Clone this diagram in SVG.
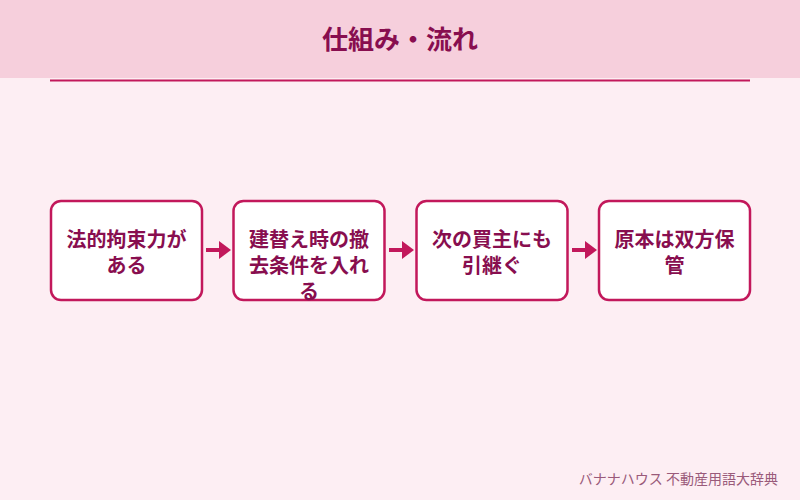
<svg xmlns="http://www.w3.org/2000/svg" width="800" height="500" viewBox="0 0 800 500">
<style>
.box{fill:#ffffff;stroke:#c2185b;stroke-width:2.5}
.t{font-family:"Noto Sans CJK JP","Noto Sans",sans-serif;font-weight:bold;font-size:20px;fill:#880e4f;text-anchor:middle}
.conn{stroke:#c2185b;stroke-width:4;fill:none}
.head{fill:#c2185b}
</style>
<rect x="0" y="0" width="800" height="500" fill="#fdeef3"/>
<rect x="0" y="0" width="800" height="78" fill="#f6cfdc"/>
<line x1="50" y1="80.5" x2="750" y2="80.5" stroke="#c2185b" stroke-width="2"/>
<text x="400" y="49" font-family="'Noto Sans CJK JP','Noto Sans',sans-serif" font-weight="bold" font-size="26" fill="#880e4f" text-anchor="middle">仕組み・流れ</text>
<g id="connectors">
<line class="conn" x1="206" y1="250" x2="221" y2="250"/>
<polygon class="head" points="219,241 231,250 219,259"/>
<line class="conn" x1="389" y1="250" x2="404" y2="250"/>
<polygon class="head" points="402,241 414,250 402,259"/>
<line class="conn" x1="572" y1="250" x2="587" y2="250"/>
<polygon class="head" points="585,241 597,250 585,259"/>
</g>
<g id="node1">
<rect class="box" x="51" y="201" width="151" height="99" rx="10"/>
<text class="t" x="126.5" y="247">法的拘束力が</text>
<text class="t" x="126.5" y="273">ある</text>
</g>
<g id="node2">
<rect class="box" x="233.5" y="201" width="151" height="99" rx="10"/>
<text class="t" x="309" y="247">建替え時の撤</text>
<text class="t" x="309" y="273">去条件を入れ</text>
<text class="t" x="309" y="299">る</text>
</g>
<g id="node3">
<rect class="box" x="416.5" y="201" width="151" height="99" rx="10"/>
<text class="t" x="492" y="247">次の買主にも</text>
<text class="t" x="492" y="273">引継ぐ</text>
</g>
<g id="node4">
<rect class="box" x="599" y="201" width="151" height="99" rx="10"/>
<text class="t" x="674.5" y="247">原本は双方保</text>
<text class="t" x="674.5" y="273">管</text>
</g>
<text x="778" y="484" font-family="'Noto Sans CJK JP','Noto Sans',sans-serif" font-size="14" fill="#9a5a7a" text-anchor="end">バナナハウス 不動産用語大辞典</text>
</svg>
